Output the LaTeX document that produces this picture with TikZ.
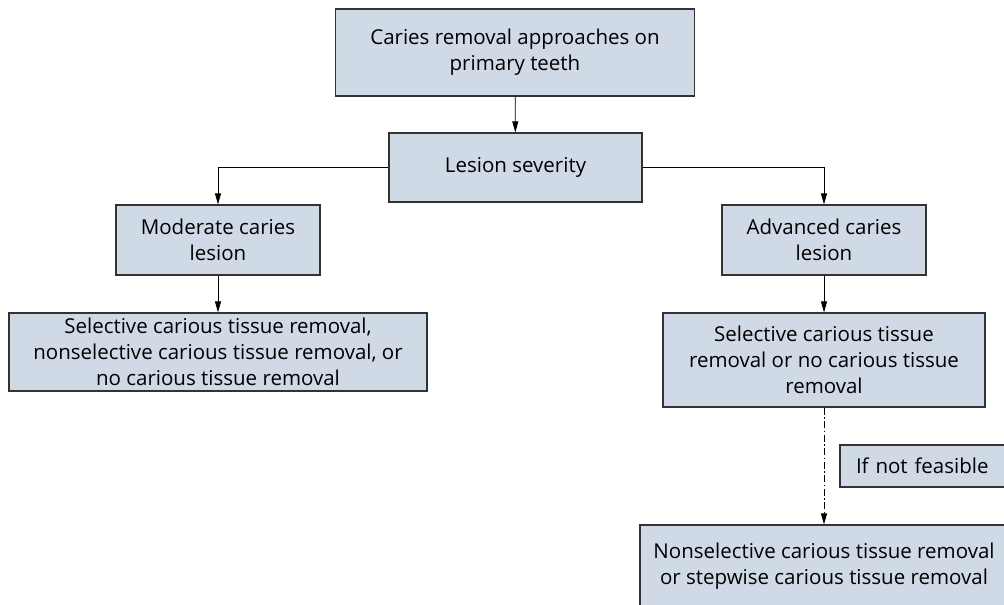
\documentclass[tikz,border=0pt]{standalone}
\usepackage{fontspec}
\setmainfont{Open Sans}
\usetikzlibrary{arrows.meta}
\definecolor{boxfill}{HTML}{D0D9E6}
\definecolor{boxline}{HTML}{333333}

\begin{document}
\begin{tikzpicture}[x=1pt, y=-1pt]
   \tikzstyle{every node}=[draw=boxline, fill=boxfill, line width=1.2pt, align=center, inner sep=0pt, font=\fontsize{20.5}{26}\selectfont]
   \tikzstyle{link}=[draw=black, line width=0.8pt, -{Triangle[length=11pt, width=6pt]}]
   \tikzstyle{maybe}=[link, dash pattern=on 7pt off 2.5pt on 1.5pt off 2.5pt]

\useasboundingbox (0,0) rectangle (1004,605);
\clip (0,0) rectangle (1004,605);

\node[minimum width=359pt, minimum height=87pt] (top) at (515,52.5) {Caries removal approaches on\\primary teeth};
\node[minimum width=253pt, minimum height=69pt] (sev) at (515.5,167.5) {Lesion severity};
\node[minimum width=204pt, minimum height=70pt] (mod) at (218,240) {Moderate caries\\lesion};
\node[minimum width=204pt, minimum height=70pt] (adv) at (824,240) {Advanced caries\\lesion};
\node[minimum width=418pt, minimum height=78pt] (modrem) at (218,352) {Selective carious tissue removal,\\nonselective carious tissue removal, or\\no carious tissue removal};
\node[minimum width=322pt, minimum height=94pt] (advrem) at (824,360) {Selective carious tissue\\removal or no carious tissue\\removal};
\node[minimum width=170pt, minimum height=42pt, text width=170pt, align=left] (nf) at (925,466) {\hspace*{16pt}If not feasible};
\node[minimum width=368pt, minimum height=82pt] (alt) at (824,566) {Nonselective carious tissue removal\\or stepwise carious tissue removal};

\draw[link] (top) -- (sev);
\draw[link] (sev.west) -| (mod.north);
\draw[link] (sev.east) -| (adv.north);
\draw[link] (mod) -- (modrem);
\draw[link] (adv) -- (advrem);
\draw[maybe] (advrem) -- (alt);

\end{tikzpicture}
\end{document}
